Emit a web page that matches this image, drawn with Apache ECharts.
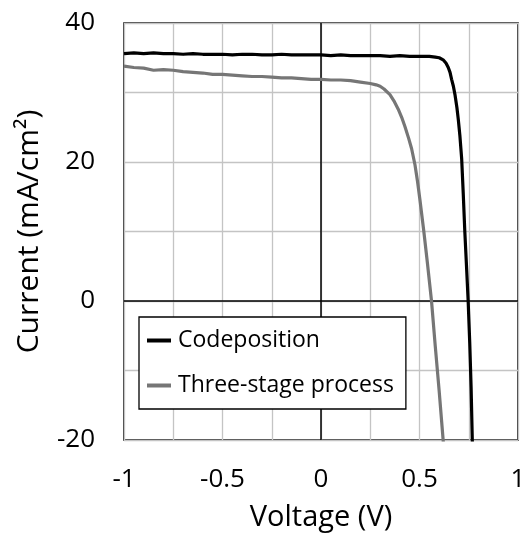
<!DOCTYPE html>
<html>
<head>
<meta charset="utf-8">
<script src="https://cdn.jsdelivr.net/npm/echarts@6/dist/echarts.min.js"></script>
<style>
html,body{margin:0;padding:0;background:#fff;}
#chart{width:523px;height:535px;}
</style>
</head>
<body>
<div id="chart"></div>
<script>
const seriesNames = ['Codeposition', 'Three-stage process'];
const codepositionV = [-1.0,-0.95,-0.9,-0.85,-0.8,-0.75,-0.7,-0.65,-0.6,-0.55,-0.5,-0.45,-0.4,-0.35,-0.3,-0.25,-0.2,-0.15,-0.1,-0.05,0.0,0.05,0.1,0.15,0.2,0.25,0.3,0.35,0.4,0.45,0.5,0.55,0.58,0.6,0.62,0.635,0.646,0.655,0.663,0.672,0.68,0.69,0.697,0.705,0.714,0.722,0.73,0.74,0.747,0.755,0.762,0.768,0.775];
const codepositionJ = [35.6,35.7,35.6,35.7,35.6,35.6,35.5,35.6,35.5,35.5,35.5,35.4,35.5,35.5,35.4,35.4,35.5,35.4,35.4,35.4,35.4,35.3,35.4,35.3,35.3,35.3,35.3,35.2,35.3,35.2,35.2,35.2,35.1,35.0,34.7,34.2,33.6,32.9,31.9,30.9,29.7,27.8,26.1,23.8,20.5,15.5,10.0,4.2,0.0,-6.0,-12.5,-20.0,-27.0];
const threeStageV = [-1.0,-0.95,-0.9,-0.85,-0.8,-0.75,-0.7,-0.65,-0.6,-0.55,-0.5,-0.45,-0.4,-0.35,-0.3,-0.25,-0.2,-0.15,-0.1,-0.05,0.0,0.05,0.1,0.15,0.2,0.25,0.28,0.3,0.32,0.35,0.37,0.392,0.41,0.426,0.445,0.46,0.477,0.49,0.502,0.522,0.54,0.561,0.58,0.6,0.62,0.63];
const threeStageJ = [33.8,33.6,33.5,33.2,33.3,33.2,33.0,32.9,32.8,32.6,32.6,32.5,32.4,32.3,32.3,32.2,32.1,32.1,32.0,31.9,31.9,31.8,31.8,31.7,31.5,31.3,31.1,30.9,30.5,29.7,28.8,27.6,26.4,25.1,23.4,21.9,19.6,17.2,14.6,10.0,5.5,0.0,-6.5,-13.0,-20.0,-24.0];
const xTicks = {min: -1, max: 1, interval: 0.5};
const yTicks = {min: -20, max: 40, interval: 20};

const zip = (a, b) => a.map((v, i) => [v, b[i]]);
const font = 'Open Sans';

const chart = echarts.init(document.getElementById('chart'), null, {renderer: 'canvas'});
chart.setOption({
  animation: false,
  backgroundColor: '#fff',
  grid: {left: 124, right: 5, top: 23, bottom: 95, show: true, borderColor: '#000', borderWidth: 1.5,
         backgroundColor: 'transparent', containLabel: false, outerBoundsMode: 'none'},
  xAxis: {
    type: 'value', min: xTicks.min, max: xTicks.max, interval: xTicks.interval,
    name: 'Voltage (V)', nameLocation: 'middle', nameGap: 63,
    nameTextStyle: {fontFamily: font, fontSize: 29, color: '#000'},
    axisLine: {show: false}, axisTick: {show: false},
    axisLabel: {fontFamily: font, fontSize: 26, color: '#000', margin: 27, formatter: v => String(v)},
    splitLine: {show: true, lineStyle: {color: '#c4c4c4', width: 1.3}},
    minorTick: {show: false, splitNumber: 2},
    minorSplitLine: {show: true, lineStyle: {color: '#c4c4c4', width: 1.3}}
  },
  yAxis: {
    type: 'value', min: yTicks.min, max: yTicks.max, interval: yTicks.interval,
    name: 'Current (mA/cm²)', nameLocation: 'middle', nameGap: 80, nameRotate: 90,
    nameTextStyle: {fontFamily: font, fontSize: 30, color: '#000'},
    axisLine: {show: false}, axisTick: {show: false},
    axisLabel: {fontFamily: font, fontSize: 26, color: '#000', margin: 29},
    splitLine: {show: true, lineStyle: {color: '#c4c4c4', width: 1.3}},
    minorTick: {show: false, splitNumber: 2},
    minorSplitLine: {show: true, lineStyle: {color: '#c4c4c4', width: 1.3}}
  },
  legend: {
    orient: 'vertical', left: 139, top: 317,
    backgroundColor: '#fff', borderColor: '#000', borderWidth: 1.3,
    padding: [12, 12, 12, 8], itemGap: 22,
    icon: 'rect', itemWidth: 24, itemHeight: 4, itemStyle: {borderWidth: 0},
    textStyle: {fontFamily: font, fontSize: 23, color: '#000', padding: [0, 0, 0, 2]},
    data: seriesNames
  },
  series: [
    {
      name: seriesNames[1], type: 'line', data: zip(threeStageV, threeStageJ),
      showSymbol: false, symbol: 'none', smooth: false,
      lineStyle: {color: '#767676', width: 3.2, join: 'round'}, itemStyle: {color: '#767676'}, z: 3
    },
    {
      name: seriesNames[0], type: 'line', data: zip(codepositionV, codepositionJ),
      showSymbol: false, symbol: 'none', smooth: false,
      lineStyle: {color: '#000', width: 3.2, join: 'round'}, itemStyle: {color: '#000'}, z: 4,
      markLine: {
        silent: true, symbol: 'none', label: {show: false},
        lineStyle: {color: '#000', width: 1.5, type: 'solid'},
        data: [{xAxis: 0}, {yAxis: 0}], z: 1
      }
    }
  ]
});
</script>
</body>
</html>
